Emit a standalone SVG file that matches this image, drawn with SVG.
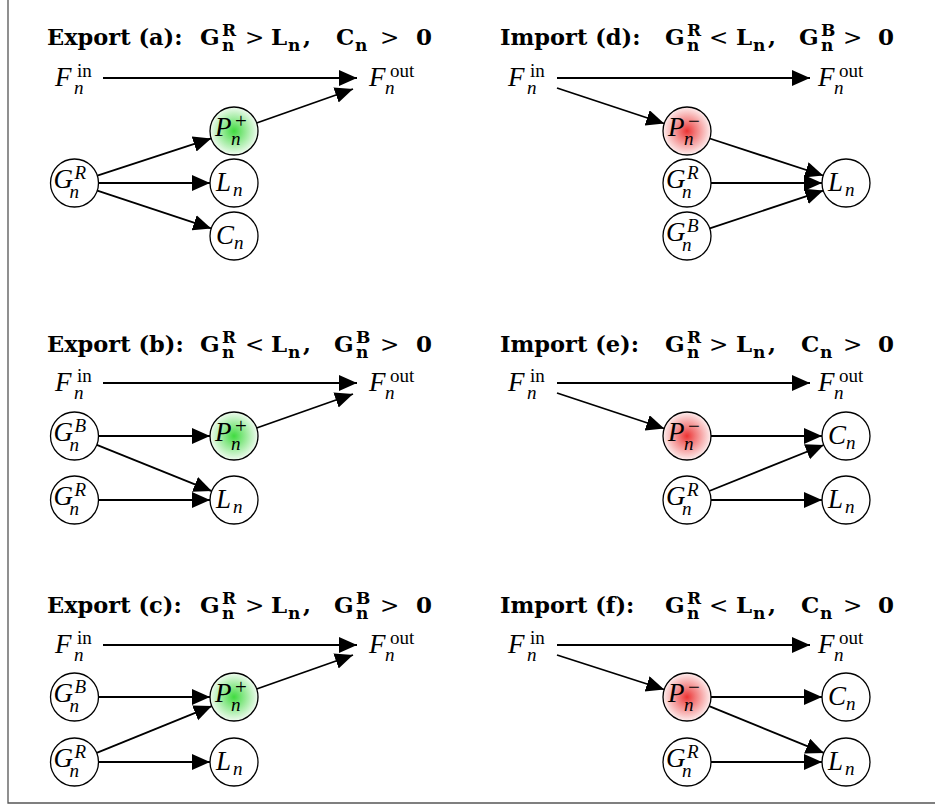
<svg xmlns="http://www.w3.org/2000/svg" width="935" height="805" viewBox="0 0 935 805">
<style>
.t{font-family:"DejaVu Serif",serif;font-weight:bold;font-size:23px;fill:#000}
.w{font-size:22.5px}
.ts{font-size:17px}
.rel{font-weight:normal}
.m{font-family:"Liberation Serif",serif;font-style:italic;font-size:27px;fill:#000}
.s{font-size:19px}
.pm2{font-size:21px}
.f{font-size:27px}
.up{font-style:normal}
.node circle{stroke:#000;stroke-width:1.3;fill:#fff}
.node circle.pp{fill:url(#gG)}
.node circle.pm{fill:url(#gR)}
.edge path{stroke:#000;stroke-width:1.8;fill:none;marker-end:url(#ah)}
.frame{stroke:#555;stroke-width:1.3;fill:none}
</style>
<defs>
<marker id="ah" markerUnits="userSpaceOnUse" markerWidth="19" markerHeight="17" refX="18" refY="8" orient="auto" viewBox="0 0 19 17">
<path d="M0,0 L18,8 L0,16 Z" fill="#000"/>
</marker>
<radialGradient id="gG"><stop offset="0" stop-color="#40db40"/><stop offset="0.35" stop-color="#7fe67f"/><stop offset="1" stop-color="#f0fbf0"/></radialGradient>
<radialGradient id="gR"><stop offset="0" stop-color="#ec3434"/><stop offset="0.35" stop-color="#f27a7a"/><stop offset="1" stop-color="#fdeeee"/></radialGradient>
</defs>
<rect width="935" height="805" fill="#fff"/>
<path class="frame" d="M8,0 V803 H935"/>

<!-- titles -->
<g id="titles">
<text class="t" y="45"><tspan class="w" x="47">Export (a):</tspan><tspan x="200">G</tspan><tspan class="ts" x="222" y="36">R</tspan><tspan class="ts" x="222" y="51">n</tspan><tspan class="rel" x="245" y="45">&gt;</tspan><tspan x="271">L</tspan><tspan class="ts" x="288" y="51">n</tspan><tspan x="303" y="45">,</tspan><tspan x="336">C</tspan><tspan class="ts" x="355" y="51">n</tspan><tspan class="rel" x="380" y="45">&gt;</tspan><tspan x="416">0</tspan></text>
<text class="t" y="45"><tspan class="w" x="500">Import (d):</tspan><tspan x="665">G</tspan><tspan class="ts" x="687" y="36">R</tspan><tspan class="ts" x="687" y="51">n</tspan><tspan class="rel" x="709" y="45">&lt;</tspan><tspan x="736">L</tspan><tspan class="ts" x="753" y="51">n</tspan><tspan x="768" y="45">,</tspan><tspan x="799">G</tspan><tspan class="ts" x="821" y="36">B</tspan><tspan class="ts" x="821" y="51">n</tspan><tspan class="rel" x="843" y="45">&gt;</tspan><tspan x="878">0</tspan></text>
<text class="t" y="352"><tspan class="w" x="47">Export (b):</tspan><tspan x="200">G</tspan><tspan class="ts" x="222" y="343">R</tspan><tspan class="ts" x="222" y="358">n</tspan><tspan class="rel" x="245" y="352">&lt;</tspan><tspan x="271">L</tspan><tspan class="ts" x="288" y="358">n</tspan><tspan x="303" y="352">,</tspan><tspan x="334">G</tspan><tspan class="ts" x="356" y="343">B</tspan><tspan class="ts" x="356" y="358">n</tspan><tspan class="rel" x="380" y="352">&gt;</tspan><tspan x="416">0</tspan></text>
<text class="t" y="352"><tspan class="w" x="500">Import (e):</tspan><tspan x="665">G</tspan><tspan class="ts" x="687" y="343">R</tspan><tspan class="ts" x="687" y="358">n</tspan><tspan class="rel" x="709" y="352">&gt;</tspan><tspan x="736">L</tspan><tspan class="ts" x="753" y="358">n</tspan><tspan x="768" y="352">,</tspan><tspan x="801">C</tspan><tspan class="ts" x="820" y="358">n</tspan><tspan class="rel" x="843" y="352">&gt;</tspan><tspan x="878">0</tspan></text>
<text class="t" y="613"><tspan class="w" x="47">Export (c):</tspan><tspan x="200">G</tspan><tspan class="ts" x="222" y="604">R</tspan><tspan class="ts" x="222" y="619">n</tspan><tspan class="rel" x="245" y="613">&gt;</tspan><tspan x="271">L</tspan><tspan class="ts" x="288" y="619">n</tspan><tspan x="303" y="613">,</tspan><tspan x="334">G</tspan><tspan class="ts" x="356" y="604">B</tspan><tspan class="ts" x="356" y="619">n</tspan><tspan class="rel" x="380" y="613">&gt;</tspan><tspan x="416">0</tspan></text>
<text class="t" y="613"><tspan class="w" x="500">Import (f):</tspan><tspan x="665">G</tspan><tspan class="ts" x="687" y="604">R</tspan><tspan class="ts" x="687" y="619">n</tspan><tspan class="rel" x="709" y="613">&lt;</tspan><tspan x="736">L</tspan><tspan class="ts" x="753" y="619">n</tspan><tspan x="768" y="613">,</tspan><tspan x="801">C</tspan><tspan class="ts" x="820" y="619">n</tspan><tspan class="rel" x="843" y="613">&gt;</tspan><tspan x="878">0</tspan></text>
</g>

<!-- connectors -->
<g id="connectors" class="edge">
<path d="M103,78 H357"/>
<path d="M256.6,123 L353,89"/>
<path d="M97.3,175.6 L211.2,138.4"/>
<path d="M98.5,183 H210"/>
<path d="M97.3,190.6 L211.2,228.4"/>

<path d="M557,78 H810"/>
<path d="M557,88 L664.2,123.5"/>
<path d="M709.8,138.5 L823.2,175.5"/>
<path d="M711,183 H822"/>
<path d="M709.8,228.4 L823.2,190.6"/>

<path d="M103,383 H357"/>
<path d="M256.6,428 L353,394"/>
<path d="M98.5,436 H210"/>
<path d="M96.8,444.9 L211.7,491.1"/>
<path d="M98.5,500 H210"/>

<path d="M557,383 H810"/>
<path d="M557,393 L664.2,428.5"/>
<path d="M711,436 H822"/>
<path d="M709.3,491 L823.7,445"/>
<path d="M711,500 H822"/>

<path d="M103,645 H357"/>
<path d="M256.6,689 L353,655"/>
<path d="M98.5,697 H210"/>
<path d="M96.7,752.9 L211.8,706.1"/>
<path d="M98.5,762 H210"/>

<path d="M557,645 H810"/>
<path d="M557,655 L664.2,689.5"/>
<path d="M711,697 H822"/>
<path d="M709.2,706.1 L823.8,752.9"/>
<path d="M711,762 H822"/>
</g>

<!-- panel a -->
<g id="a-Fin" class="node"><text class="m f"><tspan x="55" y="86">F</tspan><tspan class="s up" x="77" y="77">in</tspan><tspan class="s" x="74" y="94">n</tspan></text></g>
<g id="a-Fout" class="node"><text class="m f"><tspan x="369" y="86">F</tspan><tspan class="s up" x="390" y="77">out</tspan><tspan class="s" x="385" y="94">n</tspan></text></g>
<g id="a-GR" class="node"><circle cx="74.5" cy="183" r="24"/><text class="m"><tspan x="53.5" y="188">G</tspan><tspan class="s" x="74.5" y="179">R</tspan><tspan class="s" x="69.5" y="198">n</tspan></text></g>
<g id="a-P" class="node"><circle class="pp" cx="234" cy="131" r="24"/><text class="m"><tspan x="215" y="136">P</tspan><tspan class="pm2 up" x="235" y="128">+</tspan><tspan class="s" x="231" y="145">n</tspan></text></g>
<g id="a-L" class="node"><circle cx="234" cy="183" r="24"/><text class="m"><tspan x="216" y="191">L</tspan><tspan class="s" x="233" y="196">n</tspan></text></g>
<g id="a-C" class="node"><circle cx="234" cy="236" r="24"/><text class="m"><tspan x="216" y="244">C</tspan><tspan class="s" x="234" y="249">n</tspan></text></g>

<!-- panel d -->
<g id="d-Fin" class="node"><text class="m f"><tspan x="508" y="86">F</tspan><tspan class="s up" x="530" y="77">in</tspan><tspan class="s" x="527" y="94">n</tspan></text></g>
<g id="d-Fout" class="node"><text class="m f"><tspan x="818" y="86">F</tspan><tspan class="s up" x="839" y="77">out</tspan><tspan class="s" x="834" y="94">n</tspan></text></g>
<g id="d-P" class="node"><circle class="pm" cx="687" cy="131" r="24"/><text class="m"><tspan x="668" y="136">P</tspan><tspan class="pm2 up" x="688" y="128">−</tspan><tspan class="s" x="684" y="145">n</tspan></text></g>
<g id="d-GR" class="node"><circle cx="687" cy="183" r="24"/><text class="m"><tspan x="666" y="188">G</tspan><tspan class="s" x="687" y="179">R</tspan><tspan class="s" x="682" y="198">n</tspan></text></g>
<g id="d-GB" class="node"><circle cx="687" cy="236" r="24"/><text class="m"><tspan x="666" y="241">G</tspan><tspan class="s" x="687" y="232">B</tspan><tspan class="s" x="682" y="251">n</tspan></text></g>
<g id="d-L" class="node"><circle cx="846" cy="183" r="24"/><text class="m"><tspan x="828" y="191">L</tspan><tspan class="s" x="845" y="196">n</tspan></text></g>

<!-- panel b -->
<g id="b-Fin" class="node"><text class="m f"><tspan x="55" y="391">F</tspan><tspan class="s up" x="77" y="382">in</tspan><tspan class="s" x="74" y="399">n</tspan></text></g>
<g id="b-Fout" class="node"><text class="m f"><tspan x="369" y="391">F</tspan><tspan class="s up" x="390" y="382">out</tspan><tspan class="s" x="385" y="399">n</tspan></text></g>
<g id="b-GB" class="node"><circle cx="74.5" cy="436" r="24"/><text class="m"><tspan x="53.5" y="441">G</tspan><tspan class="s" x="74.5" y="432">B</tspan><tspan class="s" x="69.5" y="451">n</tspan></text></g>
<g id="b-P" class="node"><circle class="pp" cx="234" cy="436" r="24"/><text class="m"><tspan x="215" y="441">P</tspan><tspan class="pm2 up" x="235" y="433">+</tspan><tspan class="s" x="231" y="450">n</tspan></text></g>
<g id="b-GR" class="node"><circle cx="74.5" cy="500" r="24"/><text class="m"><tspan x="53.5" y="505">G</tspan><tspan class="s" x="74.5" y="496">R</tspan><tspan class="s" x="69.5" y="515">n</tspan></text></g>
<g id="b-L" class="node"><circle cx="234" cy="500" r="24"/><text class="m"><tspan x="216" y="508">L</tspan><tspan class="s" x="233" y="513">n</tspan></text></g>

<!-- panel e -->
<g id="e-Fin" class="node"><text class="m f"><tspan x="508" y="391">F</tspan><tspan class="s up" x="530" y="382">in</tspan><tspan class="s" x="527" y="399">n</tspan></text></g>
<g id="e-Fout" class="node"><text class="m f"><tspan x="818" y="391">F</tspan><tspan class="s up" x="839" y="382">out</tspan><tspan class="s" x="834" y="399">n</tspan></text></g>
<g id="e-P" class="node"><circle class="pm" cx="687" cy="436" r="24"/><text class="m"><tspan x="668" y="441">P</tspan><tspan class="pm2 up" x="688" y="433">−</tspan><tspan class="s" x="684" y="450">n</tspan></text></g>
<g id="e-C" class="node"><circle cx="846" cy="436" r="24"/><text class="m"><tspan x="828" y="444">C</tspan><tspan class="s" x="846" y="449">n</tspan></text></g>
<g id="e-GR" class="node"><circle cx="687" cy="500" r="24"/><text class="m"><tspan x="666" y="505">G</tspan><tspan class="s" x="687" y="496">R</tspan><tspan class="s" x="682" y="515">n</tspan></text></g>
<g id="e-L" class="node"><circle cx="846" cy="500" r="24"/><text class="m"><tspan x="828" y="508">L</tspan><tspan class="s" x="845" y="513">n</tspan></text></g>

<!-- panel c -->
<g id="c-Fin" class="node"><text class="m f"><tspan x="55" y="653">F</tspan><tspan class="s up" x="77" y="644">in</tspan><tspan class="s" x="74" y="661">n</tspan></text></g>
<g id="c-Fout" class="node"><text class="m f"><tspan x="369" y="653">F</tspan><tspan class="s up" x="390" y="644">out</tspan><tspan class="s" x="385" y="661">n</tspan></text></g>
<g id="c-GB" class="node"><circle cx="74.5" cy="697" r="24"/><text class="m"><tspan x="53.5" y="702">G</tspan><tspan class="s" x="74.5" y="693">B</tspan><tspan class="s" x="69.5" y="712">n</tspan></text></g>
<g id="c-P" class="node"><circle class="pp" cx="234" cy="697" r="24"/><text class="m"><tspan x="215" y="702">P</tspan><tspan class="pm2 up" x="235" y="694">+</tspan><tspan class="s" x="231" y="711">n</tspan></text></g>
<g id="c-GR" class="node"><circle cx="74.5" cy="762" r="24"/><text class="m"><tspan x="53.5" y="767">G</tspan><tspan class="s" x="74.5" y="758">R</tspan><tspan class="s" x="69.5" y="777">n</tspan></text></g>
<g id="c-L" class="node"><circle cx="234" cy="762" r="24"/><text class="m"><tspan x="216" y="770">L</tspan><tspan class="s" x="233" y="775">n</tspan></text></g>

<!-- panel f -->
<g id="f-Fin" class="node"><text class="m f"><tspan x="508" y="653">F</tspan><tspan class="s up" x="530" y="644">in</tspan><tspan class="s" x="527" y="661">n</tspan></text></g>
<g id="f-Fout" class="node"><text class="m f"><tspan x="818" y="653">F</tspan><tspan class="s up" x="839" y="644">out</tspan><tspan class="s" x="834" y="661">n</tspan></text></g>
<g id="f-P" class="node"><circle class="pm" cx="687" cy="697" r="24"/><text class="m"><tspan x="668" y="702">P</tspan><tspan class="pm2 up" x="688" y="694">−</tspan><tspan class="s" x="684" y="711">n</tspan></text></g>
<g id="f-C" class="node"><circle cx="846" cy="697" r="24"/><text class="m"><tspan x="828" y="705">C</tspan><tspan class="s" x="846" y="710">n</tspan></text></g>
<g id="f-GR" class="node"><circle cx="687" cy="762" r="24"/><text class="m"><tspan x="666" y="767">G</tspan><tspan class="s" x="687" y="758">R</tspan><tspan class="s" x="682" y="777">n</tspan></text></g>
<g id="f-L" class="node"><circle cx="846" cy="762" r="24"/><text class="m"><tspan x="828" y="770">L</tspan><tspan class="s" x="845" y="775">n</tspan></text></g>
</svg>
